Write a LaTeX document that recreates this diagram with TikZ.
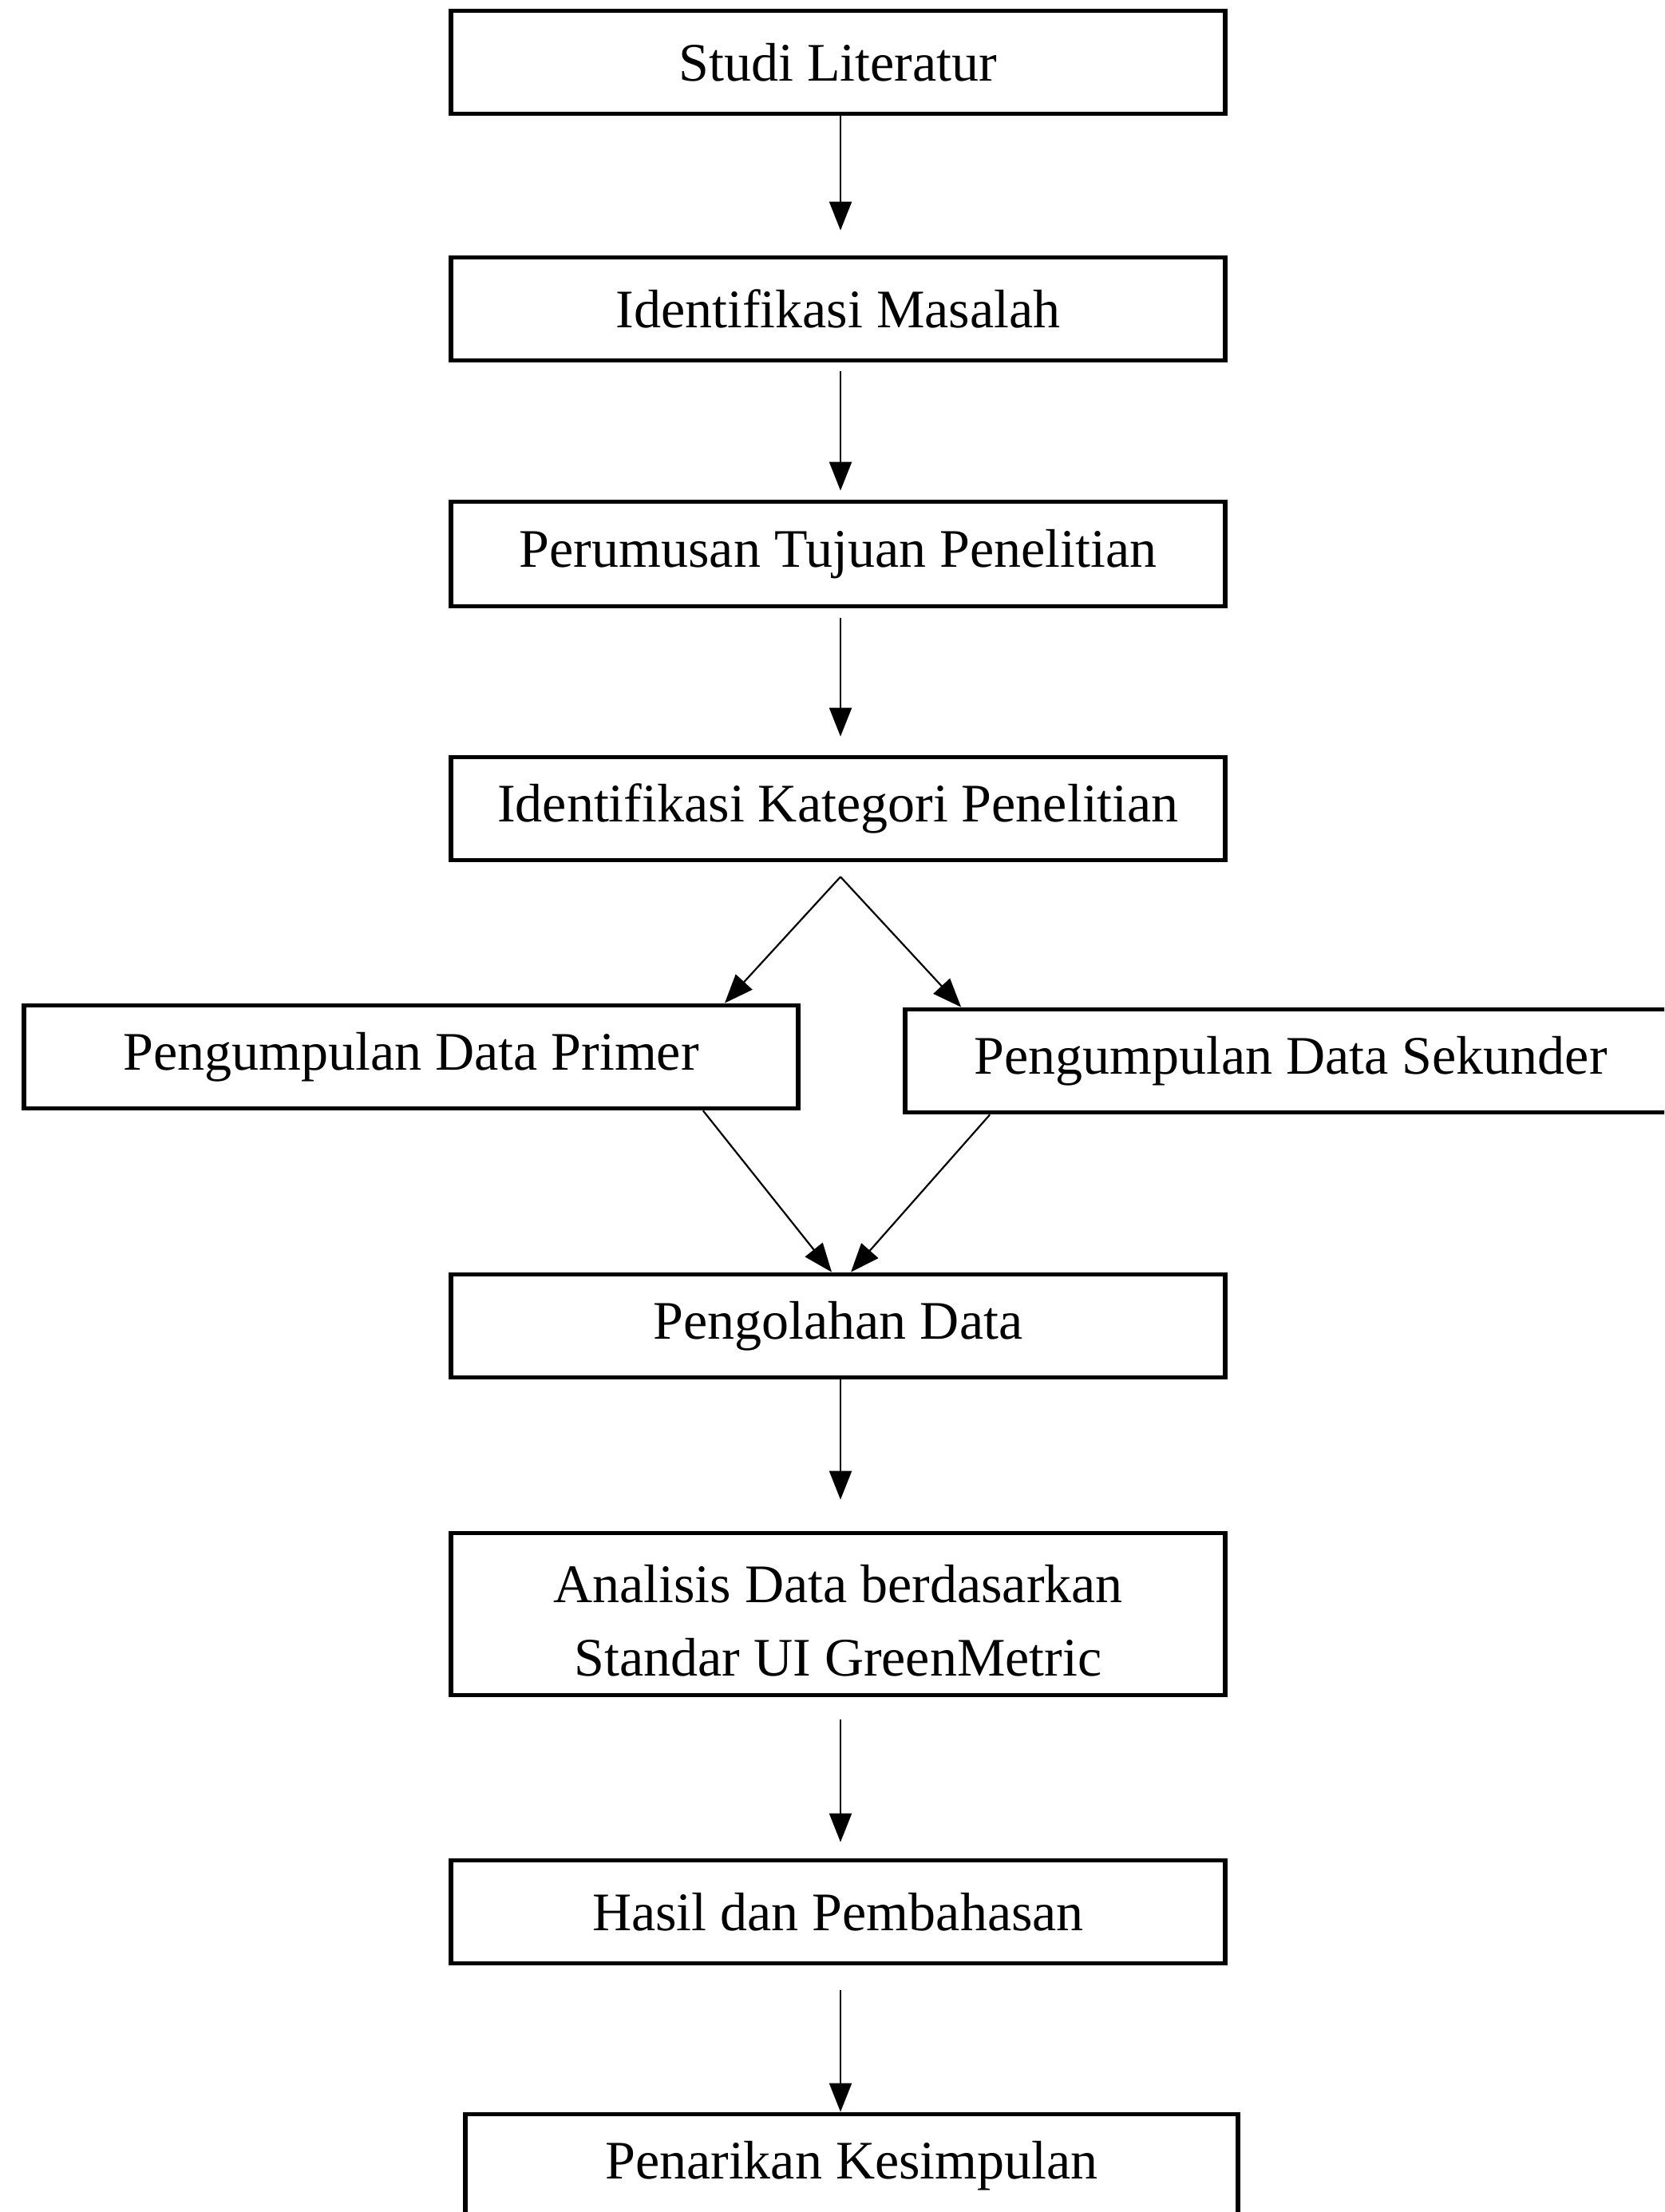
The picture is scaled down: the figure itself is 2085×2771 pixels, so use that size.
\documentclass[tikz,border=0pt]{standalone}
\usepackage{fontspec}
\setmainfont{Liberation Serif}
\usetikzlibrary{arrows.meta,calc}
\begin{document}
\begin{tikzpicture}[x=0.5pt,y=-0.5pt,
  txt/.style={inner sep=0pt, align=center, font=\fontsize{34}{46}\selectfont},
  box/.style={txt, draw, line width=2.9pt, rectangle, minimum width=485pt, minimum height=64.5pt},
  arr/.style={-{Triangle[length=18pt,width=14pt]}, line width=1.1pt}]
\useasboundingbox (0,0) rectangle (2085,2771);
\clip (0,0) rectangle (2085,2771);
\node[box] (b1) at (1050,78) {Studi Literatur};
\node[box] (b2) at (1050,387) {Identifikasi Masalah};
\node[box, minimum height=65.5pt] (b3) at (1050,694) {Perumusan Tujuan Penelitian};
\node[box] (b4) at (1050,1013) {Identifikasi Kategori Penelitian};
\node[box] (p) at (515,1324) {Pengumpulan Data Primer};
\node[box, minimum width=483pt] (s) at (1617,1329) {Pengumpulan Data Sekunder};
\node[box] (c) at (1050,1661) {Pengolahan Data};
\node[box, minimum height=101.5pt] (d) at (1050,2022) {};
\node[txt] (dt) at ([yshift=-4pt]d.center) {Analisis Data berdasarkan\\Standar UI GreenMetric};
\node[box] (e) at (1050,2395) {Hasil dan Pembahasan};
\node[box, minimum width=484pt] (f) at (1067,2713) {Penarikan Kesimpulan};

\draw[arr, shorten >=15.5pt] ([xshift=1.5pt]b1.south) -- ([xshift=1.5pt]b2.north);
\draw[arr, shorten <=5.5pt, shorten >=5.5pt] ([xshift=1.5pt]b2.south) -- ([xshift=1.5pt]b3.north);
\draw[arr, shorten <=6pt, shorten >=11.5pt] ([xshift=1.5pt]b3.south) -- ([xshift=1.5pt]b4.north);
\coordinate (sp) at ([xshift=1.5pt,yshift=-9pt]b4.south);
\draw[arr] (sp) -- ([xshift=-47.5pt]p.north east);
\draw[arr] (sp) -- ([xshift=36.5pt]s.north west);
\draw[arr] ([xshift=-61pt]p.south east) -- ([xshift=-4pt]c.north);
\draw[arr] ([xshift=54.5pt]s.south west) -- ([xshift=8pt]c.north);
\draw[arr, shorten >=19.5pt] ([xshift=1.5pt]c.south) -- ([xshift=1.5pt]d.north);
\draw[arr, shorten <=14pt, shorten >=10pt] ([xshift=1.5pt]d.south) -- ([xshift=1.5pt]e.north);
\draw[arr, shorten <=15.5pt] ([xshift=1.5pt]e.south) -- ([xshift=1.5pt]e.south |- f.north);
\end{tikzpicture}
\end{document}
